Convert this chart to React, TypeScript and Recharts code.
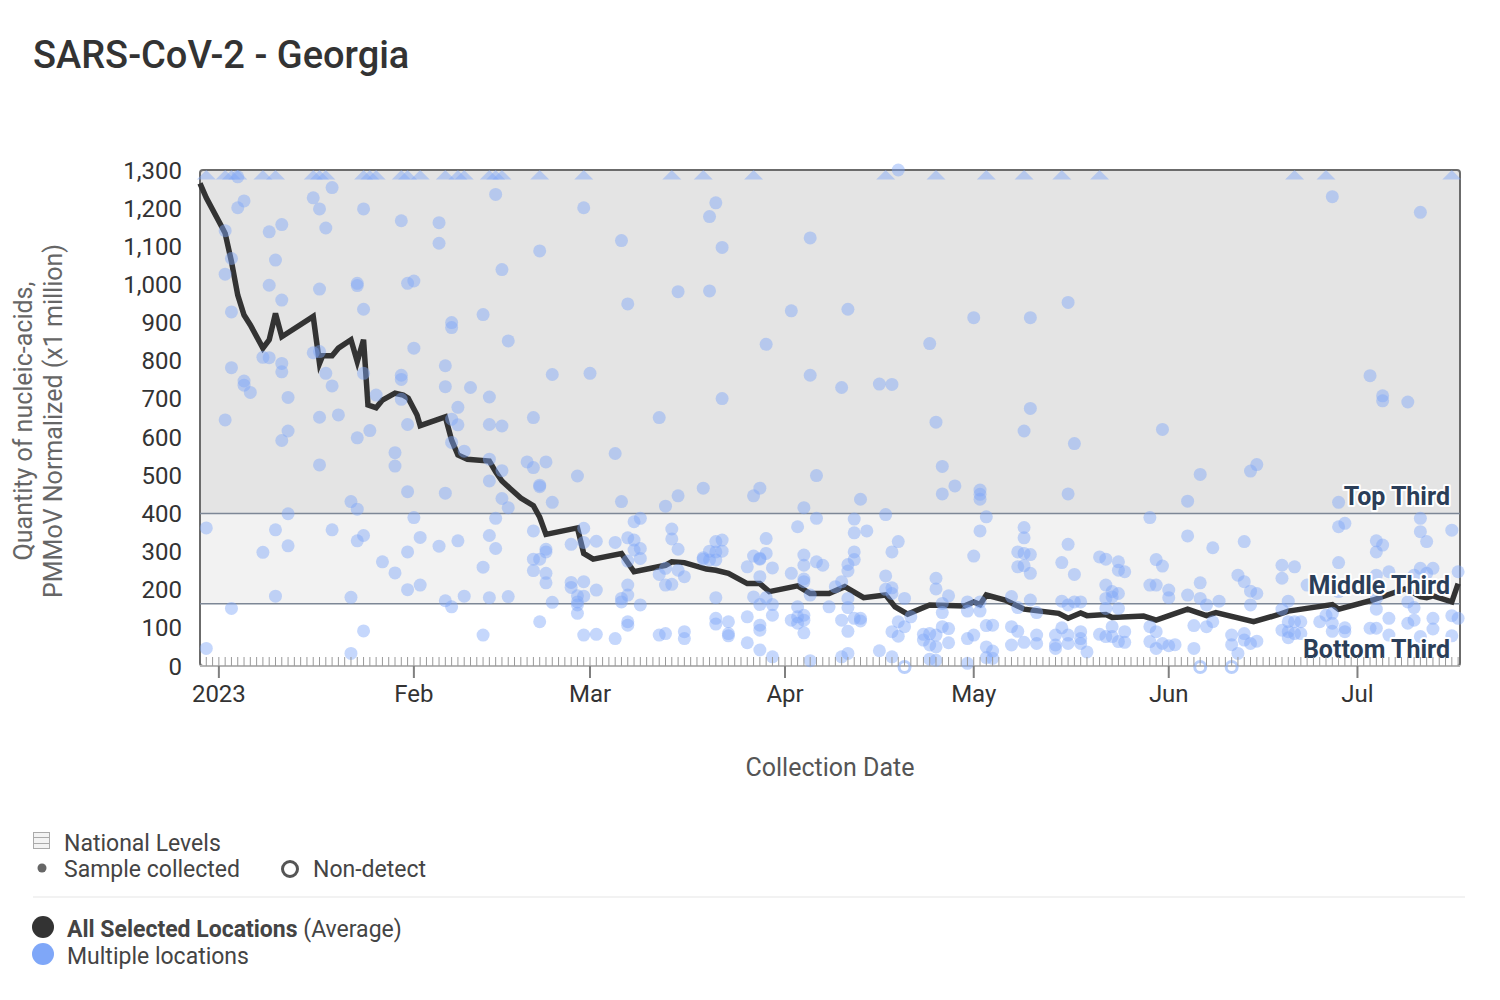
import React from 'react';
import { ComposedChart, XAxis, YAxis, Scatter, Line, ReferenceArea, ReferenceLine } from 'recharts';

// ---- axis / category data ----
const monthTickDays = [0, 31, 59, 90, 120, 151, 181];
const monthTickLabels = ['2023', 'Feb', 'Mar', 'Apr', 'May', 'Jun', 'Jul'];
const yTicks = [0, 100, 200, 300, 400, 500, 600, 700, 800, 900, 1000, 1100, 1200, 1300];
const xDomain: [number, number] = [-3, 197.3];
const yDomain: [number, number] = [0, 1300];

// national level thresholds
const nationalBottomThirdMax = 163;
const nationalTopThirdMin = 400;
const thirdLabels = [
  { day: 197.3, value: 445, text: 'Top Third' },
  { day: 197.3, value: 212, text: 'Middle Third' },
  { day: 197.3, value: 45, text: 'Bottom Third' },
];

// ---- average line (day of 2023, value) ----
const avgDays = [-3, -2, 0.5, 1, 2, 3, 4, 5, 7, 8, 9, 10, 15, 16, 16.5, 18, 19, 21, 22, 23, 23.7, 25, 26, 28, 29.3, 30.1, 31.5, 32, 36, 37, 38, 39.5, 43, 44, 45, 46.3, 48, 50, 51, 52, 57, 58, 59.5, 64, 66, 71, 72, 74, 77.5, 79, 81, 84, 86, 87.5, 92, 94, 97, 99.5, 102.5, 106, 107.5, 109.5, 113, 118.5, 120, 121, 122, 125, 128, 133.5, 135, 137, 138, 141, 142, 147, 149, 154, 157, 158.5, 164.5, 168.5, 170, 177, 178, 183.5, 188.5, 189.5, 191, 192, 193, 196, 197];
const avgValues = [1265, 1227, 1150, 1134, 1060, 972, 920, 894, 833, 855, 924, 863, 916, 793, 813, 813, 833, 855, 798, 855, 684, 677, 697, 715, 710, 702, 658, 630, 653, 592, 553, 542, 537, 509, 485, 465, 440, 420, 390, 345, 362, 295, 280, 295, 247, 264, 273, 271, 254, 251, 243, 216, 216, 195, 210, 190, 190, 208, 179, 186, 155, 136, 160, 157, 168, 161, 186, 173, 149, 138, 125, 139, 132, 135, 127, 131, 120, 149, 132, 140, 116, 135, 144, 161, 149, 173, 202, 195, 182, 179, 184, 168, 216];

// ---- samples per month: [day, value] ----
const janSamples: [number, number][] = [
  [1, 1141], [1, 1027], [2, 1068], [2, 928], [2, 782], [3, 1282], [3, 1201], [4, 1219], [4, 747], [4, 736], [5, 717], [7, 809], [8, 1138], [8, 998], [8, 808], [9, 1064], [10, 1157], [10, 959], [10, 793], [10, 771], [11, 704], [15, 1227], [15, 821], [16, 1198], [16, 988], [16, 824], [17, 1148], [17, 767], [18, 1254], [18, 734], [22, 1003], [22, 997], [23, 1198], [23, 935], [23, 767], [25, 710], [29, 1167], [29, 762], [29, 751], [29, 699], [30, 1003],
  [1, 645], [16, 652], [19, 658], [11, 616], [10, 591], [22, 598], [24, 617], [16, 527], [28, 559], [28, 524], [30, 633], [30, 457], [21, 431], [22, 411], [11, 399], [-2, 362], [9, 357], [18, 357], [23, 342], [22, 328], [11, 315], [7, 298], [30, 299], [26, 273], [28, 244], [30, 200], [9, 183], [21, 180], [2, 151], [23, 92], [-2, 46], [21, 33],
];
const febSamples: [number, number][] = [
  [31, 1009], [31, 833], [35, 1162], [35, 1108], [36, 787], [36, 732], [37, 900], [37, 887], [38, 678], [40, 730], [42, 921], [43, 705], [44, 1236], [45, 1039], [46, 852], [51, 1088], [53, 764], [58, 1201],
  [37, 647], [38, 632], [37, 586], [39, 563], [43, 633], [45, 629], [43, 542], [45, 512], [43, 485], [36, 453], [45, 439], [46, 415], [31, 389], [32, 337], [35, 314], [38, 328], [43, 342], [44, 387], [44, 308], [32, 212], [42, 259], [36, 171], [37, 155], [39, 183], [43, 179], [46, 182], [42, 81],
  [50, 651], [49, 535], [50, 520], [52, 535], [57, 498], [51, 474], [51, 470], [53, 429], [50, 354], [58, 361], [56, 319], [58, 324], [52, 306], [52, 299], [50, 280], [51, 280], [50, 250], [52, 243], [52, 218], [56, 219], [56, 206], [58, 221], [57, 184], [58, 183], [57, 168], [57, 160], [53, 167], [57, 138], [51, 116], [58, 81],
];
const marSamples: [number, number][] = [
  [59, 767], [63, 557], [64, 431], [70, 651], [71, 419], [73, 446], [77, 466], [85, 446], [86, 466], [66, 378], [67, 387], [72, 359], [72, 333], [60, 327], [63, 324], [65, 336], [66, 330], [66, 304], [67, 308], [73, 306], [65, 275], [67, 282], [70, 240], [71, 256], [73, 251], [74, 234], [71, 212], [72, 214], [60, 199], [65, 212], [64, 177], [64, 168], [65, 186], [67, 160], [65, 116], [65, 107], [60, 83], [63, 72], [70, 81], [71, 85], [74, 90], [74, 72],
  [77, 284], [78, 301], [79, 326], [79, 299], [80, 330], [80, 301], [78, 278], [79, 278], [77, 280], [79, 179], [79, 125], [79, 110], [81, 116], [81, 85], [81, 79], [84, 260], [85, 288], [86, 282], [86, 280], [87, 334], [87, 295], [88, 257], [86, 234], [85, 181], [86, 161], [87, 179], [88, 161], [88, 133], [84, 129], [86, 107], [86, 94], [84, 61], [86, 42], [88, 24],
  [79, 1214], [78, 1178], [64, 1115], [80, 1097], [73, 981], [78, 983], [65, 949], [87, 843], [80, 701],
];
const aprSamples: [number, number][] = [
  [93, 415], [95, 499], [95, 387], [92, 365], [93, 291], [93, 264], [91, 243], [93, 228], [93, 221], [94, 186], [95, 273], [96, 264], [92, 155], [92, 129], [91, 120], [92, 112], [93, 133], [93, 120], [93, 87], [94, 14], [97, 155],
  [94, 1122], [91, 931], [100, 935], [113, 845], [94, 762], [99, 730], [105, 739], [107, 738], [108, 1300],
  [114, 639], [115, 523], [115, 451], [117, 472], [102, 437], [101, 385], [101, 349], [103, 354], [106, 397], [108, 326], [107, 299], [101, 299], [101, 279], [100, 266], [100, 249], [99, 221], [98, 208], [106, 236], [106, 201], [107, 205], [107, 190], [109, 177], [114, 230], [114, 202], [116, 184], [100, 177], [100, 153], [99, 120], [101, 125], [102, 125], [102, 118], [100, 91], [108, 116], [109, 103], [107, 90], [108, 78], [110, 129], [112, 83], [112, 68], [113, 85], [113, 55], [114, 50], [114, 81], [115, 103], [116, 98], [116, 61], [115, 164], [115, 140], [105, 40], [107, 24], [99, 24], [100, 33], [113, 18], [114, 15], [119, 168], [119, 144], [119, 72], [119, 7],
];
const maySamples: [number, number][] = [
  [120, 913], [129, 913], [120, 288], [121, 461], [121, 450], [121, 437], [122, 391], [121, 354], [128, 616], [129, 675], [136, 583], [135, 451], [135, 953], [120, 81], [121, 168], [121, 144], [122, 106], [123, 107], [122, 50], [123, 39], [122, 22], [123, 20], [127, 299], [128, 295], [129, 292], [127, 260], [128, 263], [128, 363], [128, 336], [129, 243], [126, 182], [127, 153], [129, 173], [130, 140], [126, 103], [127, 91], [126, 55], [128, 62], [130, 81], [130, 59],
  [134, 271], [135, 319], [136, 240], [134, 170], [135, 160], [136, 168], [137, 168], [134, 100], [133, 81], [135, 81], [133, 55], [133, 46], [135, 59], [137, 90], [137, 72], [137, 59], [138, 37], [140, 286], [141, 280], [143, 273], [143, 251], [144, 247], [141, 212], [141, 177], [142, 195], [142, 181], [143, 190], [141, 151], [143, 151], [142, 103], [140, 83], [141, 77], [142, 77], [144, 90], [144, 62], [143, 64],
  [150, 620], [148, 389], [149, 279], [150, 262], [148, 212], [149, 212], [148, 103], [149, 90], [148, 64], [149, 46], [150, 59],
];
const junSamples: [number, number][] = [
  [156, 502], [164, 511], [165, 528], [154, 432], [178, 429], [154, 341], [158, 310], [163, 326], [151, 199], [151, 179], [154, 186], [156, 218], [156, 177], [157, 160], [159, 170], [162, 238], [163, 221], [164, 196], [165, 190], [164, 160], [169, 264], [169, 230], [171, 260], [173, 212], [170, 170], [169, 149], [178, 365], [179, 374], [178, 271], [178, 195], [176, 212],
  [179, 100], [179, 90], [177, 112], [177, 91], [176, 133], [177, 138], [175, 116], [170, 116], [171, 116], [172, 116], [169, 94], [170, 90], [171, 85], [172, 85], [170, 74], [163, 85], [163, 68], [164, 59], [165, 65], [161, 81], [161, 56], [162, 33], [158, 116], [157, 103], [155, 106], [151, 53], [152, 56], [155, 46], [177, 1230],
];
const julSamples: [number, number][] = [
  [191, 1189], [183, 761], [185, 708], [185, 695], [189, 692], [184, 328], [185, 317], [184, 299], [191, 387], [191, 352], [192, 326], [196, 356], [186, 247], [191, 256], [192, 243], [193, 256], [190, 238], [197, 247], [184, 238], [184, 177], [184, 149], [189, 168], [190, 153], [186, 125], [189, 112], [190, 120], [193, 125], [193, 97], [196, 132], [197, 125], [191, 77], [196, 79], [183, 99], [184, 99], [186, 81],
];
// samples above 1,300 (drawn as triangles on the top edge)
const aboveRangeDays = [-2, 1, 2, 3, 7, 9, 15, 16, 17, 23, 24, 25, 29, 30, 32, 36, 38, 39, 43, 44, 45, 51, 58, 72, 77, 85, 106, 114, 122, 128, 134, 140, 171, 176, 196];
const aboveRangeCap = 1300;
// non-detect samples
const nonDetectDays = [109, 156, 161];

// ---- derived tables ----
const avgData = avgDays.map((d, i) => ({ day: d, value: avgValues[i] }));
const sampleData = [...janSamples, ...febSamples, ...marSamples, ...aprSamples, ...maySamples, ...junSamples, ...julSamples].map(([d, v]) => ({ day: d, value: v }));
const aboveData = aboveRangeDays.map((d) => ({ day: d, value: aboveRangeCap }));
const nonDetectData = nonDetectDays.map((d) => ({ day: d, value: 0 }));
const dayTicks: number[] = [];
for (let d = -2; d <= 197; d++) dayTicks.push(d);

const FONT = 'Roboto, sans-serif';
const BLUE = '#7fa7f8';

const DayTick = (props: any) => {
  const { x, y, payload } = props;
  const idx = monthTickDays.indexOf(payload.value);
  return (
    <g>
      <line x1={x} x2={x} y1={y - 9} y2={y} stroke="#9a9a9a" strokeWidth={1} />
      {idx >= 0 && (
        <g>
          <line x1={x} x2={x} y1={y} y2={y + 12} stroke="#808080" strokeWidth={2} />
          <text x={x} y={y + 36} textAnchor="middle" fontSize={24} fill="#333" fontFamily={FONT}>
            {monthTickLabels[idx]}
          </text>
        </g>
      )}
    </g>
  );
};

const SampleDot = (p: any) => <circle cx={p.cx} cy={p.cy} r={6.5} fill={BLUE} fillOpacity={0.45} />;
const Triangle = (p: any) => (
  <path d={`M${p.cx - 9.5},${p.cy + 9.5} L${p.cx},${p.cy} L${p.cx + 9.5},${p.cy + 9.5} Z`} fill={BLUE} fillOpacity={0.45} />
);
const NonDetect = (p: any) => (
  <circle cx={p.cx} cy={p.cy + 1} r={5.5} fill="none" stroke={BLUE} strokeOpacity={0.55} strokeWidth={3} />
);
const ThirdLabel = (p: any) => (
  <text x={p.cx - 10} y={p.cy} dy="0.35em" textAnchor="end" fontSize={25} fontWeight={700} fill="#2b3e58"
    stroke="#fff" strokeWidth={4} strokeLinejoin="round" paintOrder="stroke" fontFamily={FONT}>
    {p.payload.text}
  </text>
);

export default function App() {
  return (
    <div style={{ position: 'relative', width: 1484, height: 984, fontFamily: FONT }}>
      <ComposedChart width={1484} height={800} margin={{ top: 162, right: 32, bottom: 32, left: 0 }}>
        <XAxis type="number" dataKey="day" domain={xDomain} ticks={dayTicks} interval={0}
          tick={(p: any) => <DayTick {...p} />} tickLine={false} tickSize={0} tickMargin={0} height={110}
          axisLine={{ stroke: '#b5b5b5', strokeWidth: 2 }}
          label={{ value: 'Collection Date', position: 'insideBottom', offset: 0, fontSize: 25, fill: '#555', fontFamily: FONT }} />
        <YAxis type="number" dataKey="value" domain={yDomain} ticks={yTicks} width={192}
          tickLine={false} axisLine={false} tickSize={0} tickMargin={18}
          tick={{ fontSize: 24, fill: '#333', fontFamily: FONT }}
          tickFormatter={(v: number) => v.toLocaleString('en-US')} />
        <ReferenceArea y1={nationalTopThirdMin} y2={1300} fill="#e4e4e4" fillOpacity={1} stroke="none" />
        <ReferenceArea y1={nationalBottomThirdMax} y2={nationalTopThirdMin} fill="#f2f2f2" fillOpacity={1} stroke="none" />
        <ReferenceLine y={nationalTopThirdMin} stroke="#7d8796" strokeWidth={1.5} />
        <ReferenceLine y={nationalBottomThirdMax} stroke="#7d8796" strokeWidth={1.5} />
        <Scatter data={sampleData} shape={SampleDot} isAnimationActive={false} />
        <Scatter data={aboveData} shape={Triangle} isAnimationActive={false} />
        <Scatter data={nonDetectData} shape={NonDetect} isAnimationActive={false} />
        <Line data={avgData} dataKey="value" type="linear" stroke="#333" strokeWidth={5.5} dot={false}
          activeDot={false} isAnimationActive={false} />
        <Scatter data={thirdLabels} shape={ThirdLabel} isAnimationActive={false} />
        <ReferenceArea x1={xDomain[0]} x2={xDomain[1]} y1={0} y2={1300} fill="none" stroke="#6b6b6b" strokeWidth={2} radius={3} />
      </ComposedChart>
      <svg width={1484} height={984} style={{ position: 'absolute', left: 0, top: 0, pointerEvents: 'none' }}>
        <text x={25} y={60} fontSize={38} fontWeight={500} fill="#333" fontFamily={FONT}>SARS-CoV-2 - Georgia</text>
        <text transform="translate(24,413) rotate(-90)" textAnchor="middle" fontSize={25} fill="#666" fontFamily={FONT}>Quantity of nucleic-acids,</text>
        <text transform="translate(54,413) rotate(-90)" textAnchor="middle" fontSize={25} fill="#666" fontFamily={FONT}>PMMoV Normalized (x1 million)</text>
        {/* legend */}
        <rect x={25.5} y={824.5} width={16} height={16} fill="#f3f3f3" stroke="#aaa" />
        <line x1={25.5} x2={41.5} y1={829.5} y2={829.5} stroke="#aaa" />
        <line x1={25.5} x2={41.5} y1={835.5} y2={835.5} stroke="#aaa" />
        <text x={56} y={843} fontSize={23} fill="#444" fontFamily={FONT}>National Levels</text>
        <circle cx={34} cy={860} r={4.5} fill="#666" />
        <text x={56} y={869} fontSize={23} fill="#444" fontFamily={FONT}>Sample collected</text>
        <circle cx={282} cy={861} r={7.5} fill="none" stroke="#555" strokeWidth={3} />
        <text x={305} y={869} fontSize={23} fill="#444" fontFamily={FONT}>Non-detect</text>
        <line x1={25} x2={1457} y1={889} y2={889} stroke="#eee" strokeWidth={1.5} />
        <circle cx={35} cy={919} r={11} fill="#333" />
        <text x={59} y={929} fontSize={23} fill="#444" fontFamily={FONT}>
          <tspan fontWeight={700}>All Selected Locations</tspan>
          <tspan> (Average)</tspan>
        </text>
        <circle cx={35} cy={946} r={11} fill={BLUE} />
        <text x={59} y={956} fontSize={23} fill="#444" fontFamily={FONT}>Multiple locations</text>
      </svg>
    </div>
  );
}
